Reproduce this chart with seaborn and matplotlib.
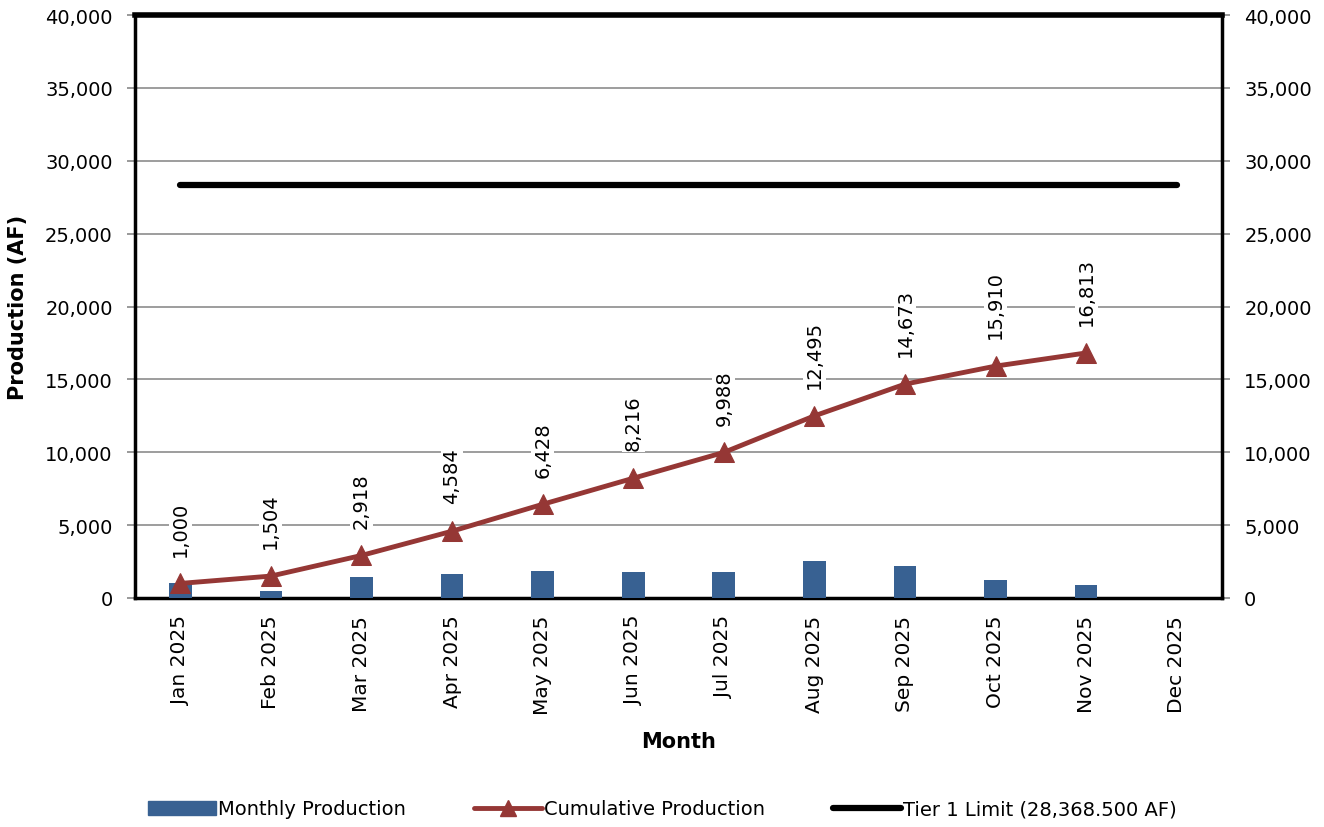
import numpy as np
import pandas as pd
import matplotlib
matplotlib.use("Agg")
import matplotlib.pyplot as plt
import seaborn as sns
from matplotlib.lines import Line2D
from matplotlib.patches import Patch
from matplotlib.ticker import FuncFormatter, FixedLocator

# Data
months = ["Jan 2025", "Feb 2025", "Mar 2025", "Apr 2025", "May 2025", "Jun 2025",
          "Jul 2025", "Aug 2025", "Sep 2025", "Oct 2025", "Nov 2025", "Dec 2025"]
monthly = [1000, 504, 1414, 1666, 1844, 1788, 1772, 2507, 2178, 1237, 903, np.nan]
cumulative = [1000, 1504, 2918, 4584, 6428, 8216, 9988, 12495, 14673, 15910, 16813, np.nan]
tier1_limit = 28368.5

bar_color = "#386192"
line_color = "#953735"

sns.set_theme(style="white")
plt.rcParams["font.family"] = ["DejaVu Sans"]
plt.rcParams["text.color"] = "black"
plt.rcParams["axes.labelcolor"] = "black"
plt.rcParams["xtick.color"] = "black"
plt.rcParams["ytick.color"] = "black"

df = pd.DataFrame({"Month": months, "Monthly": monthly, "Cumulative": cumulative,
                   "Tier": [tier1_limit] * len(months)})

fig = plt.figure(figsize=(13.24, 8.28), dpi=100)
ax = fig.add_axes([135 / 1324, 1 - 599 / 828, (1222 - 135) / 1324, (599 - 16) / 828])

# Monthly bars
sns.barplot(data=df, x="Month", y="Monthly", order=months, color=bar_color,
            width=0.25, saturation=1, ax=ax, zorder=3, edgecolor=bar_color, linewidth=0)

xpos = np.arange(len(months))

# Tier 1 limit line
ax.plot(xpos, df["Tier"], color="black", lw=4.5, solid_capstyle="round", zorder=4)

# Cumulative production line
sns.lineplot(x=xpos, y=df["Cumulative"], color=line_color, lw=3.5, marker="^",
             markersize=15, markeredgecolor=line_color, ax=ax, zorder=5)

# Value labels above cumulative points
for x, v in zip(xpos, cumulative):
    if np.isnan(v):
        continue
    ax.annotate(f"{v:,.0f}", xy=(x, v), xytext=(0, 20), textcoords="offset points",
                rotation=90, ha="center", va="bottom", fontsize=14, color="black",
                bbox=dict(boxstyle="square,pad=0.1", fc="white", ec="none"), zorder=6)

ax.set_xlim(-0.5, len(months) - 0.5)
ax.set_ylim(0, 40000)
ax.yaxis.set_major_locator(FixedLocator(np.arange(0, 40001, 5000)))
ax.yaxis.set_major_formatter(FuncFormatter(lambda v, p: f"{v:,.0f}"))
ax.yaxis.grid(True, color="#8c8c8c", lw=1.2, zorder=0)
ax.set_axisbelow(True)

ax.tick_params(axis="y", which="both", left=True, right=True, labelleft=True,
               labelright=True, direction="out", length=6, color="#8c8c8c",
               labelsize=14, pad=10)
ax.set_xticks(xpos)
ax.set_xticklabels(months, rotation=90, fontsize=14.5)
ax.tick_params(axis="x", which="major", length=0, pad=12)
ax.set_xticks(np.arange(-0.5, len(months)), minor=True)
ax.tick_params(axis="x", which="minor", length=7, color="#8c8c8c", width=1.5, direction="out")

for side in ["left", "right", "bottom"]:
    ax.spines[side].set_color("black")
    ax.spines[side].set_linewidth(2.5)
ax.spines["top"].set_color("black")
ax.spines["top"].set_linewidth(4)

ax.set_xlabel("Month", fontsize=15, fontweight="bold", labelpad=12)
ax.set_ylabel("Production (AF)", fontsize=15, fontweight="bold", labelpad=12)

handles = [
    Patch(facecolor=bar_color, edgecolor=bar_color),
    Line2D([0], [0], color=line_color, lw=3.5, marker="^", markersize=11),
    Line2D([0], [0], color="black", lw=4.5, solid_capstyle="round"),
]
labels = ["Monthly Production", "Cumulative Production", "Tier 1 Limit (28,368.500 AF)"]
fig.legend(handles, labels, loc="center", bbox_to_anchor=(0.5, 1 - 810 / 828), ncol=3,
           frameon=False, fontsize=14, handlelength=3.5, handletextpad=0.1,
           columnspacing=3.5)

fig.savefig("out.png", dpi=100)
